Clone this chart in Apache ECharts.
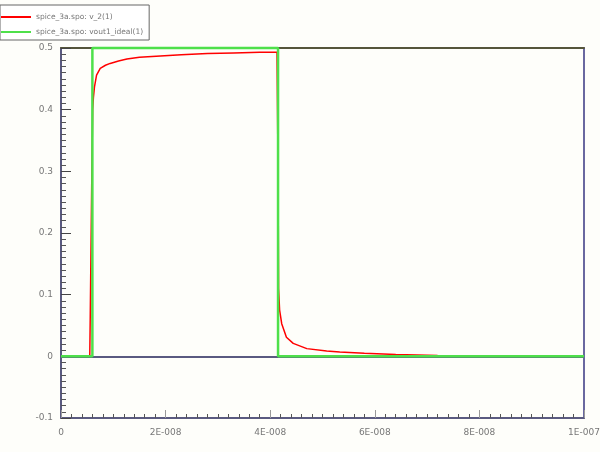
<!DOCTYPE html>
<html>
<head>
<meta charset="utf-8">
<script src="https://cdn.jsdelivr.net/npm/echarts@6/dist/echarts.min.js"></script>
<style>html,body{margin:0;padding:0;background:#fefefa;}#c{width:600px;height:452px;}</style>
</head>
<body>
<div id="c"></div>
<script>
var seriesNames = ["spice_3a.spo: v_2(1)", "spice_3a.spo: vout1_ideal(1)"];
var xTickLabels = ["0", "2E-008", "4E-008", "6E-008", "8E-008", "1E-007"];
var yTickLabels = ["-0.1", "0", "0.1", "0.2", "0.3", "0.4", "0.5"];

var redT = [0, 5.5e-9, 5.6e-9, 5.9e-9, 6.05e-9, 6.2e-9, 6.4e-9, 6.8e-9, 7.5e-9, 8.5e-9, 9.4e-9, 11e-9, 12.6e-9, 15e-9, 19e-9, 23e-9, 28e-9, 33e-9, 38e-9, 41.3e-9, 41.5e-9, 41.6e-9, 41.8e-9, 42.2e-9, 43.1e-9, 44.4e-9, 47e-9, 50.8e-9, 53.3e-9, 58e-9, 64e-9, 72e-9, 80e-9, 88e-9, 100e-9];
var redV = [0, 0, 0.07, 0.3, 0.40, 0.42, 0.437, 0.456, 0.467, 0.472, 0.475, 0.479, 0.482, 0.485, 0.487, 0.489, 0.491, 0.492, 0.493, 0.493, 0.3, 0.11, 0.075, 0.053, 0.031, 0.021, 0.0125, 0.0086, 0.007, 0.005, 0.003, 0.0015, 0.0008, 0.0003, 0];

var greenT = [0, 6e-9, 6e-9, 4.15e-8, 4.15e-8, 1e-7];
var greenV = [0, 0, 0.5, 0.5, 0, 0];

function zip(a, b) { return a.map(function (v, i) { return [v, b[i]]; }); }

var chart = echarts.init(document.getElementById('c'), null, {renderer: 'canvas'});
var labelStyle = {color: '#777', fontSize: 9, fontFamily: 'DejaVu Sans'};
chart.setOption({
  backgroundColor: '#fefefa',
  animation: false,
  grid: {left: 61, top: 48, right: 16, bottom: 34, show: false, containLabel: false, outerBoundsMode: 'none'},
  legend: {
    orient: 'vertical', left: 0, top: 5,
    data: seriesNames,
    itemWidth: 30, itemHeight: 2, itemGap: 7,
    padding: [8, 6, 4, 0],
    borderColor: '#666', borderWidth: 1,
    backgroundColor: '#fff',
    textStyle: {color: '#777', fontSize: 7.5, fontFamily: 'DejaVu Sans'}
  },
  xAxis: [{
    type: 'value', min: 0, max: 1e-7, interval: 2e-8,
    axisLine: {show: true, onZero: false, lineStyle: {color: '#5a5a80', width: 2}},
    axisTick: {show: true, inside: true, length: 8, lineStyle: {color: '#999'}},
    minorTick: {show: true, splitNumber: 10, length: 4, lineStyle: {color: '#555'}},
    axisLabel: Object.assign({margin: 10, formatter: function (v, i) { return xTickLabels[Math.round(v / 2e-8)]; }}, labelStyle),
    splitLine: {show: false}
  }, {
    type: 'value', min: 0, max: 1e-7, position: 'top',
    axisLine: {show: true, onZero: false, lineStyle: {color: '#55553a', width: 2}},
    axisTick: {show: false}, axisLabel: {show: false}, splitLine: {show: false}
  }],
  yAxis: [{
    type: 'value', min: -0.1, max: 0.5, interval: 0.1,
    axisLine: {show: true, onZero: false, lineStyle: {color: '#5a5a80', width: 2}},
    axisTick: {show: true, inside: true, length: 10, lineStyle: {color: '#444'}},
    minorTick: {show: true, splitNumber: 10, length: 5, lineStyle: {color: '#555'}},
    axisLabel: Object.assign({margin: 8, formatter: function (v) { return yTickLabels[Math.round((v + 0.1) / 0.1)]; }}, labelStyle),
    splitLine: {show: false}
  }, {
    type: 'value', min: -0.1, max: 0.5, position: 'right',
    axisLine: {show: true, onZero: false, lineStyle: {color: '#6a68a0', width: 2}},
    axisTick: {show: false}, axisLabel: {show: false}, splitLine: {show: false}
  }],
  series: [{
    name: seriesNames[0], type: 'line', data: zip(redT, redV),
    showSymbol: false, symbol: 'none', z: 3,
    lineStyle: {color: '#ff0000', width: 1.5},
    itemStyle: {color: '#ff0000'}
  }, {
    name: seriesNames[1], type: 'line', data: zip(greenT, greenV),
    showSymbol: false, symbol: 'none', clip: false, z: 4,
    lineStyle: {color: '#4ee04a', width: 2.5},
    itemStyle: {color: '#4ee04a'},
    markLine: {
      silent: true, symbol: 'none', label: {show: false}, z: 1,
      lineStyle: {color: '#5a5a80', width: 2, type: 'solid'},
      data: [{yAxis: 0}]
    }
  }]
});
</script>
</body>
</html>
